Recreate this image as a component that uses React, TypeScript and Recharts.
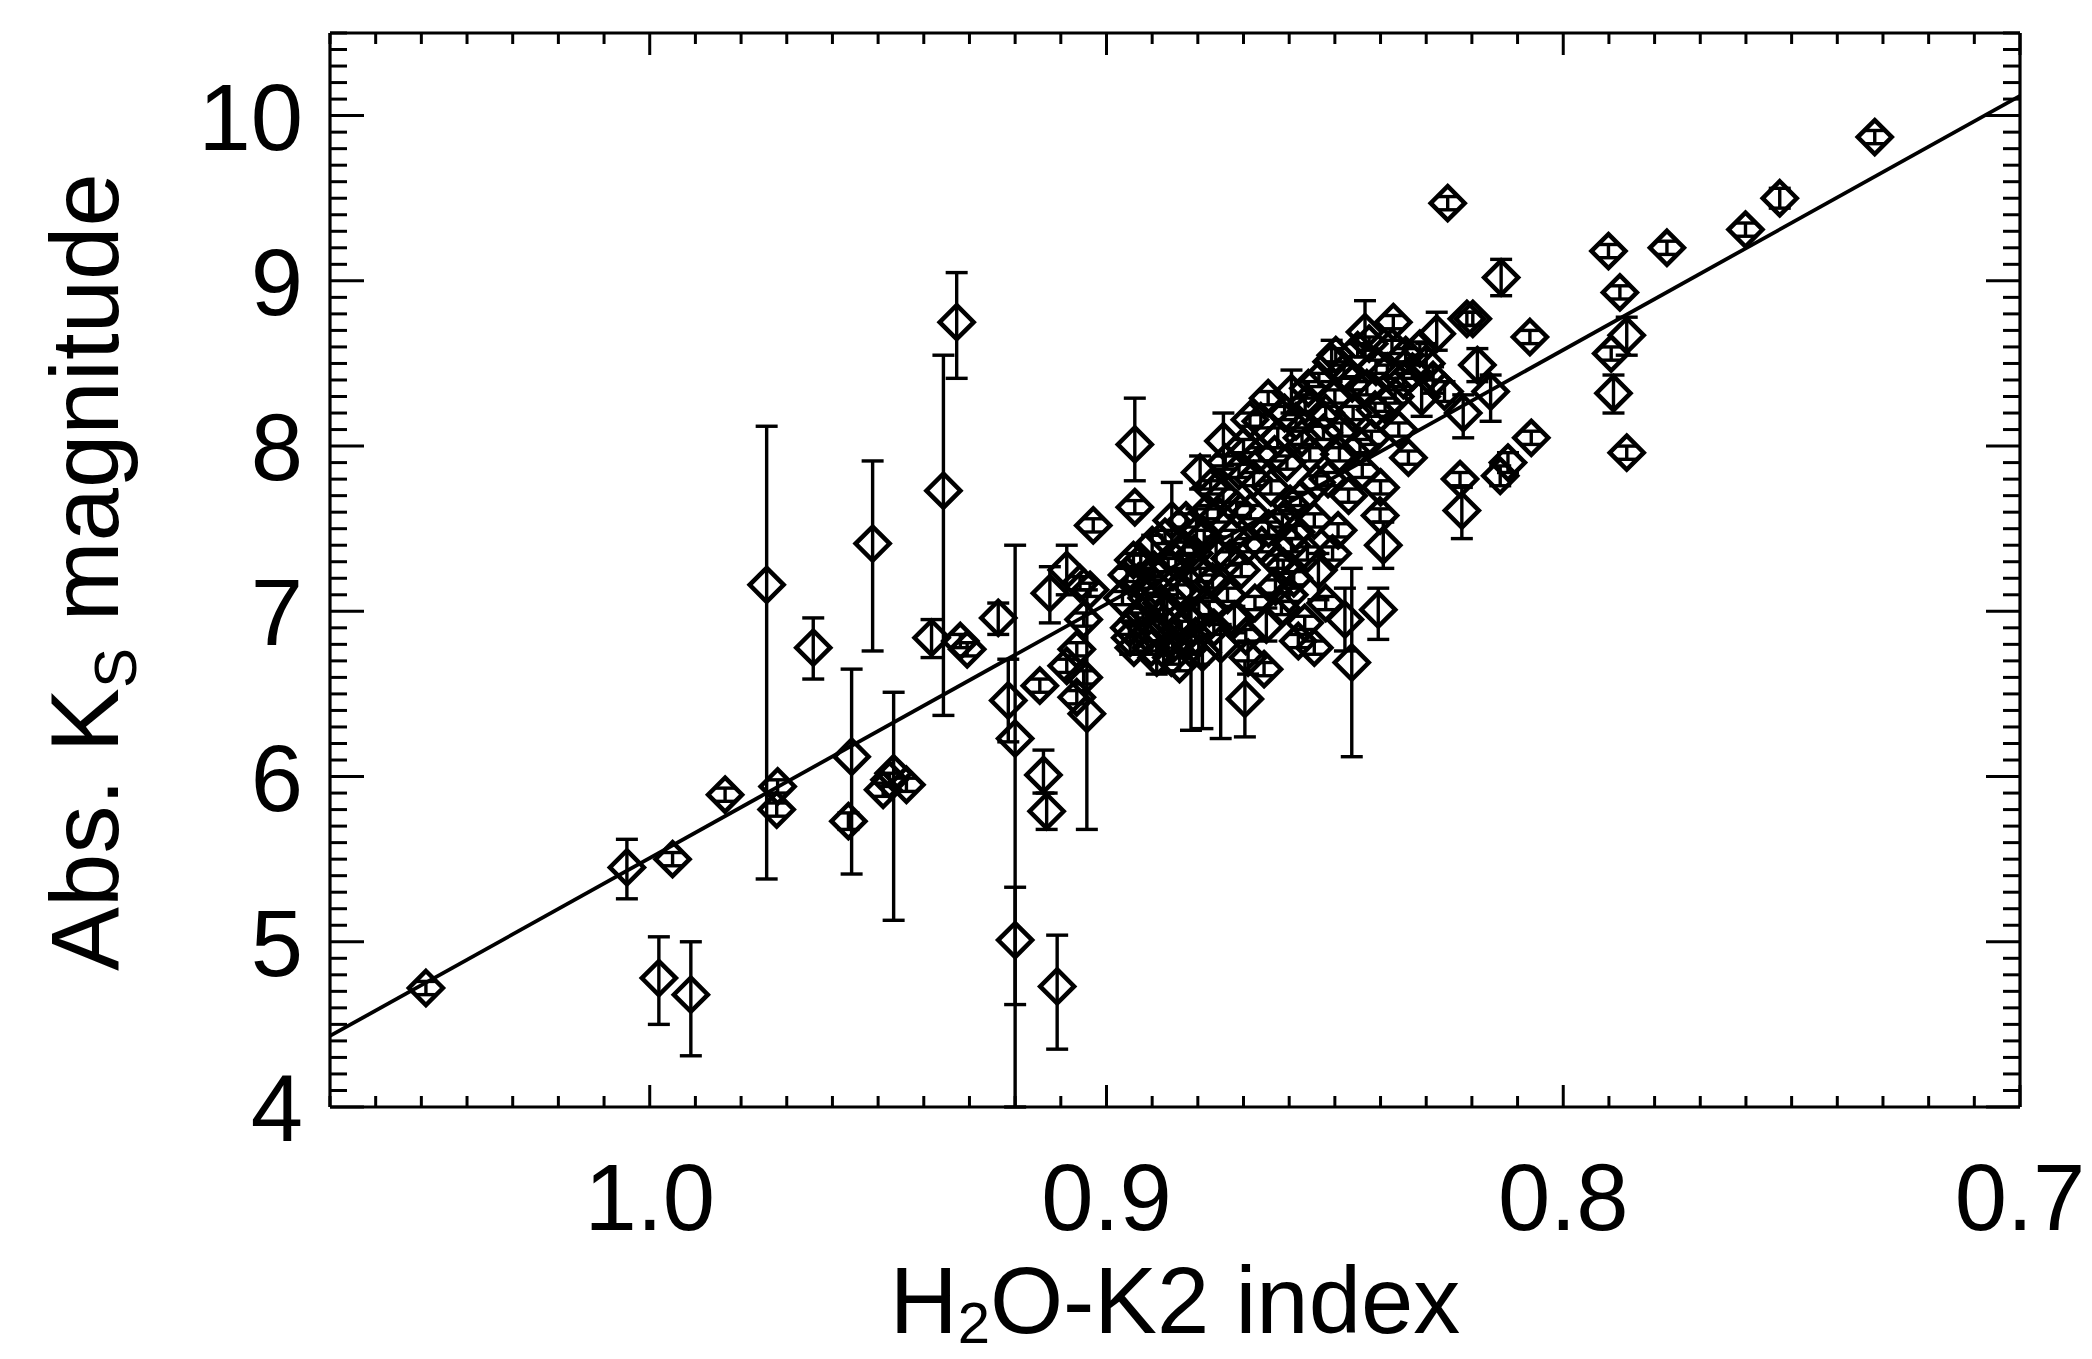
import React from "react"
import { ScatterChart, Scatter, XAxis, YAxis, ErrorBar } from "recharts"

// H2O-K2 index vs absolute Ks magnitude, one entry per star
const h2oK2Index = [
  1.049, 1.005, 0.995, 0.998, 0.991, 0.9835, 0.9744, 0.972, 0.9722, 0.9642,
  0.9558, 0.9565, 0.9512, 0.9489, 0.9466, 0.9438, 0.9475, 0.9357, 0.9328, 0.9383,
  0.932, 0.9305, 0.9237, 0.9215, 0.92, 0.92, 0.9108, 0.9146, 0.9138, 0.9131,
  0.9124, 0.9087, 0.9058, 0.9036, 0.905, 0.9065, 0.9087, 0.905, 0.9065, 0.9043,
  0.9029, 0.8938, 0.8938, 0.8941, 0.8697, 0.8463, 0.8478, 0.8405, 0.8394, 0.8401,
  0.8339, 0.8226, 0.8222, 0.8219, 0.8211, 0.8277, 0.8314, 0.8372, 0.8434, 0.8507,
  0.8595, 0.8646, 0.8686, 0.8744, 0.8795, 0.8803, 0.8857, 0.8613, 0.8536, 0.8617,
  0.8566, 0.858, 0.8493, 0.8585, 0.8253, 0.8136, 0.8198, 0.8073, 0.8188, 0.8159,
  0.807, 0.8121, 0.8138, 0.7318, 0.7526, 0.7601, 0.7773, 0.7901, 0.7876, 0.7861,
  0.7895, 0.789, 0.7861, 0.83, 0.8285, 0.826, 0.831, 0.833, 0.8965, 0.895,
  0.894, 0.893, 0.892, 0.891, 0.89, 0.889, 0.888, 0.8875, 0.8865, 0.8855,
  0.8845, 0.884, 0.883, 0.882, 0.8815, 0.8805, 0.8795, 0.879, 0.878, 0.8775,
  0.8765, 0.876, 0.875, 0.8745, 0.8735, 0.8725, 0.872, 0.871, 0.8705, 0.8695,
  0.8685, 0.8675, 0.8665, 0.866, 0.865, 0.864, 0.863, 0.8625, 0.8615, 0.8605,
  0.8595, 0.8585, 0.8575, 0.8565, 0.8555, 0.8545, 0.8535, 0.8525, 0.8515, 0.85,
  0.849, 0.848, 0.847, 0.846, 0.845, 0.844, 0.843, 0.842, 0.841, 0.84,
  0.839, 0.8375, 0.836, 0.835, 0.86, 0.852, 0.8545, 0.869, 0.8655, 0.8895,
  0.8505, 0.8955, 0.8948, 0.8932, 0.8925, 0.8912, 0.8902, 0.8893, 0.8885, 0.8872,
  0.8868, 0.8858, 0.8848, 0.8836, 0.8826, 0.8818, 0.8808, 0.8798, 0.8786, 0.8772,
  0.8768, 0.8755, 0.874, 0.873, 0.8715, 0.87, 0.8692, 0.8678, 0.8662, 0.8645,
  0.8632, 0.861, 0.8598, 0.8572, 0.8558, 0.854, 0.852, 0.8498, 0.8485, 0.8462,
  0.8445, 0.8425, 0.8412, 0.8385, 0.8368, 0.8345, 0.8625, 0.859, 0.856,
]

const absKsMag = [
  4.72, 5.45, 5.5, 4.78, 4.68, 5.89, 7.16, 5.94, 5.8, 6.78,
  6.12, 5.73, 7.41, 5.92, 6.02, 5.95, 5.98, 7.73, 8.75, 6.84,
  6.82, 6.77, 6.96, 6.46, 6.23, 5.01, 4.73, 6.55, 6.01, 5.79,
  7.11, 7.25, 7.17, 7.13, 6.95, 6.77, 6.67, 6.6, 6.48, 6.38,
  7.52, 8.01, 7.63, 7.31, 6.47, 6.69, 6.95, 7.01, 7.4, 7.58,
  7.93, 7.8, 7.61, 8.2, 8.77, 8.68, 8.59, 8.75, 8.69, 8.51,
  8.32, 8.29, 8.16, 8.03, 7.84, 7.47, 7.55, 7.27, 7.25, 7.02,
  6.93, 6.82, 7.49, 7.48, 9.47, 9.02, 8.77, 8.66, 8.49, 8.33,
  8.05, 7.9, 7.82, 9.87, 9.5, 9.31, 9.2, 9.18, 8.93, 8.67,
  8.56, 8.32, 7.96, 8.5, 8.4, 8.33, 8.3, 8.45, 7.08, 6.9,
  6.78, 7.18, 6.98, 6.86, 7.4, 6.72, 7.05, 6.93, 7.28, 6.8,
  7.12, 6.68, 7.38, 6.95, 7.15, 6.85, 7.22, 6.75, 7.6, 7.02,
  6.9, 7.35, 6.8, 7.7, 7.1, 7.45, 6.95, 7.85, 7.25, 6.85,
  7.6, 7.05, 7.95, 7.4, 6.92, 7.75, 7.15, 8.05, 7.55, 7.9,
  7.4, 8.15, 7.68, 8.25, 7.95, 7.55, 8.4, 8.08, 7.8, 8.3,
  7.95, 8.45, 7.7, 8.2, 8.58, 7.85, 8.35, 8.05, 8.48, 7.75,
  8.25, 8.6, 8.1, 8.4, 7.1, 7.05, 6.78, 6.72, 6.65, 7.25,
  7.35, 7.22, 6.84, 6.95, 7.3, 7.08, 6.78, 7.15, 6.88, 7.45,
  7.0, 6.72, 7.3, 6.9, 7.55, 6.78, 7.35, 6.98, 7.45, 7.75,
  7.18, 7.58, 7.9, 7.32, 7.62, 8.0, 7.4, 7.8, 8.15, 7.5,
  7.95, 8.2, 7.65, 8.05, 8.35, 7.78, 8.2, 8.55, 8.1, 8.38,
  8.0, 8.62, 8.22, 8.45, 8.3, 8.55, 7.3, 7.2, 7.35,
]

// lower / upper error on the magnitude
const ksErrLow = [
  0.04, 0.19, 0.04, 0.28, 0.37, 0.04, 1.78, 0.04, 0.04, 0.19,
  0.71, 0.05, 0.65, 0.04, 0.89, 0.04, 0.04, 1.36, 0.34, 0.12,
  0.04, 0.04, 0.1, 0.25, 2.23, 0.39, 0.38, 0.04, 0.11, 0.11,
  0.18, 0.15, 0.04, 0.04, 0.04, 0.04, 0.04, 0.04, 0.04, 0.7,
  0.04, 0.22, 0.04, 0.04, 0.23, 0.57, 0.19, 0.18, 0.14, 0.04,
  0.04, 0.04, 0.17, 0.15, 0.04, 0.1, 0.04, 0.04, 0.15, 0.12,
  0.12, 0.04, 0.04, 0.15, 0.1, 0.14, 0.13, 0.04, 0.18, 0.04,
  0.04, 0.04, 0.04, 0.04, 0.04, 0.11, 0.04, 0.04, 0.1, 0.18,
  0.04, 0.06, 0.06, 0.04, 0.06, 0.04, 0.04, 0.04, 0.04, 0.12,
  0.04, 0.12, 0.04, 0.1, 0.08, 0.06, 0.12, 0.04, 0.04, 0.04,
  0.04, 0.08, 0.04, 0.1, 0.06, 0.1, 0.04, 0.3, 0.04, 0.04,
  0.04, 0.04, 0.04, 0.06, 0.87, 0.04, 0.04, 0.46, 0.04, 0.04,
  0.04, 0.1, 0.57, 0.04, 0.04, 0.04, 0.08, 0.04, 0.04, 0.04,
  0.04, 0.04, 0.04, 0.04, 0.1, 0.04, 0.04, 0.06, 0.04, 0.04,
  0.04, 0.04, 0.04, 0.04, 0.04, 0.04, 0.04, 0.04, 0.04, 0.04,
  0.04, 0.04, 0.04, 0.04, 0.04, 0.04, 0.04, 0.04, 0.04, 0.04,
  0.04, 0.04, 0.04, 0.04, 0.04, 0.04, 0.04, 0.1, 0.04, 0.04,
  0.04, 0.04, 0.1, 0.04, 0.04, 0.06, 0.04, 0.04, 0.06, 0.04,
  0.1, 0.04, 0.04, 0.04, 0.04, 0.04, 0.04, 0.3, 0.04, 0.04,
  0.04, 0.04, 0.04, 0.04, 0.04, 0.04, 0.04, 0.04, 0.04, 0.04,
  0.04, 0.04, 0.04, 0.04, 0.04, 0.04, 0.04, 0.04, 0.04, 0.04,
  0.04, 0.04, 0.04, 0.04, 0.04, 0.04, 0.04, 0.04, 0.04,
]

const ksErrHigh = [
  0.04, 0.17, 0.04, 0.25, 0.32, 0.04, 0.96, 0.04, 0.04, 0.18,
  0.53, 0.05, 0.5, 0.04, 0.49, 0.04, 0.04, 0.82, 0.3, 0.11,
  0.04, 0.04, 0.09, 0.25, 1.17, 0.32, 0.31, 0.04, 0.15, 0.11,
  0.16, 0.15, 0.04, 0.04, 0.04, 0.04, 0.04, 0.04, 0.04, 0.75,
  0.04, 0.28, 0.04, 0.04, 0.23, 0.57, 0.19, 0.13, 0.14, 0.04,
  0.04, 0.04, 0.14, 0.11, 0.04, 0.13, 0.04, 0.04, 0.19, 0.13,
  0.14, 0.04, 0.04, 0.17, 0.1, 0.15, 0.23, 0.04, 0.1, 0.04,
  0.04, 0.04, 0.04, 0.04, 0.04, 0.11, 0.04, 0.04, 0.1, 0.1,
  0.04, 0.06, 0.06, 0.04, 0.06, 0.04, 0.04, 0.04, 0.04, 0.11,
  0.04, 0.11, 0.04, 0.12, 0.08, 0.06, 0.12, 0.04, 0.04, 0.04,
  0.04, 0.08, 0.04, 0.1, 0.06, 0.1, 0.04, 0.2, 0.04, 0.04,
  0.04, 0.04, 0.04, 0.06, 0.2, 0.04, 0.04, 0.1, 0.04, 0.04,
  0.04, 0.1, 0.12, 0.04, 0.04, 0.04, 0.08, 0.04, 0.04, 0.04,
  0.04, 0.04, 0.04, 0.04, 0.1, 0.04, 0.04, 0.06, 0.04, 0.04,
  0.04, 0.04, 0.04, 0.04, 0.04, 0.04, 0.04, 0.04, 0.04, 0.04,
  0.04, 0.04, 0.04, 0.04, 0.04, 0.04, 0.04, 0.04, 0.04, 0.04,
  0.04, 0.04, 0.04, 0.04, 0.04, 0.04, 0.04, 0.1, 0.04, 0.04,
  0.04, 0.04, 0.1, 0.04, 0.04, 0.06, 0.04, 0.04, 0.06, 0.04,
  0.1, 0.04, 0.04, 0.04, 0.04, 0.04, 0.04, 0.1, 0.04, 0.04,
  0.04, 0.04, 0.04, 0.04, 0.04, 0.04, 0.04, 0.04, 0.04, 0.04,
  0.04, 0.04, 0.04, 0.04, 0.04, 0.04, 0.04, 0.04, 0.04, 0.04,
  0.04, 0.04, 0.04, 0.04, 0.04, 0.04, 0.04, 0.04, 0.04,
]

// linear fit, drawn across the whole plot
const fitIndex = [1.07, 0.7]
const fitMag = [4.43, 10.12]

const xMajorTicks = [1.0, 0.9, 0.8, 0.7]
const yMajorTicks = [4, 5, 6, 7, 8, 9, 10]

const xTicks: number[] = []
for (let i = 70; i <= 107; i++) xTicks.push(i / 100)
const yTicks: number[] = []
for (let i = 40; i <= 105; i++) yTicks.push(i / 10)

const FONT = '"Liberation Sans", Arial, Helvetica, sans-serif'
const INK = "#000"

const stars = h2oK2Index.map((x, i) => ({
  x,
  y: absKsMag[i],
  err: [ksErrLow[i], ksErrHigh[i]],
}))
const fitLine = fitIndex.map((x, i) => ({ x, y: fitMag[i] }))

const isMajorX = (v: number) => xMajorTicks.some((t) => Math.abs(t - v) < 1e-6)
const isMajorY = (v: number) => yMajorTicks.some((t) => Math.abs(t - v) < 1e-6)

function renderXTick(props: any, side: "top" | "bottom") {
  const { x, y, payload } = props
  const major = isMajorX(payload.value)
  const len = major ? 22 : 11
  const dir = side === "bottom" ? -1 : 1
  return (
    <g>
      <line x1={x} y1={y} x2={x} y2={y + dir * len} stroke={INK} strokeWidth={3} />
      {side === "bottom" && major && (
        <text x={x} y={y + 123} textAnchor="middle" fontSize={94} fontFamily={FONT} fill={INK}>
          {payload.value.toFixed(1)}
        </text>
      )}
    </g>
  )
}

function renderYTick(props: any, side: "left" | "right") {
  const { x, y, payload } = props
  const major = isMajorY(payload.value)
  const len = major ? 34 : 17
  const dir = side === "left" ? 1 : -1
  return (
    <g>
      <line x1={x} y1={y} x2={x + dir * len} y2={y} stroke={INK} strokeWidth={3} />
      {side === "left" && major && (
        <text x={x - 27} y={y + 34} textAnchor="end" fontSize={94} fontFamily={FONT} fill={INK}>
          {Math.round(payload.value)}
        </text>
      )}
    </g>
  )
}

const Diamond = (props: any) => {
  const { cx, cy } = props
  const r = 17
  return (
    <path
      d={`M${cx},${cy - r}L${cx + r},${cy}L${cx},${cy + r}L${cx - r},${cy}Z`}
      fill="none"
      stroke={INK}
      strokeWidth={4.5}
    />
  )
}

const NoMarker = () => <g />

const XTitle = () => (
  <text x={1175} y={1333} textAnchor="middle" fontSize={94} fontFamily={FONT} fill={INK}>
    H
    <tspan dy={10} fontSize={58}>2</tspan>
    <tspan dy={-10}>O-K2 index</tspan>
  </text>
)

const YTitle = () => (
  <text transform="translate(118,572) rotate(-90)" textAnchor="middle" fontSize={96} fontFamily={FONT} fill={INK}>
    Abs. K
    <tspan dy={18} fontSize={60}>S</tspan>
    <tspan dy={-18}> magnitude</tspan>
  </text>
)

export default function App() {
  const axisLine = { stroke: INK, strokeWidth: 3.2 }
  return (
    <div style={{ position: "absolute", left: 0, top: 0, width: 2092, height: 1359, background: "#fff" }}>
      <ScatterChart width={2092} height={1359} margin={{ top: 32, right: 71, bottom: 52, left: 0 }}>
        <XAxis
          xAxisId="bottom"
          dataKey="x"
          type="number"
          domain={[0.7, 1.07]}
          reversed
          allowDataOverflow
          ticks={xTicks}
          interval={0}
          height={200}
          tickSize={0}
          tickMargin={0}
          tickLine={false}
          axisLine={axisLine}
          tick={(p: any) => renderXTick(p, "bottom")}
          label={XTitle}
        />
        <XAxis
          xAxisId="top"
          orientation="top"
          dataKey="x"
          type="number"
          domain={[0.7, 1.07]}
          reversed
          allowDataOverflow
          ticks={xTicks}
          interval={0}
          height={1}
          tickSize={0}
          tickMargin={0}
          tickLine={false}
          axisLine={axisLine}
          tick={(p: any) => renderXTick(p, "top")}
        />
        <YAxis
          yAxisId="left"
          dataKey="y"
          type="number"
          domain={[4, 10.5]}
          allowDataOverflow
          ticks={yTicks}
          interval={0}
          width={330}
          tickSize={0}
          tickMargin={0}
          tickLine={false}
          axisLine={axisLine}
          tick={(p: any) => renderYTick(p, "left")}
          label={YTitle}
        />
        <YAxis
          yAxisId="right"
          orientation="right"
          dataKey="y"
          type="number"
          domain={[4, 10.5]}
          allowDataOverflow
          ticks={yTicks}
          interval={0}
          width={1}
          tickSize={0}
          tickMargin={0}
          tickLine={false}
          axisLine={axisLine}
          tick={(p: any) => renderYTick(p, "right")}
        />
        <Scatter
          data={fitLine}
          xAxisId="bottom"
          yAxisId="left"
          fill={INK}
          line={{ stroke: INK, strokeWidth: 3.8 }}
          shape={NoMarker}
          isAnimationActive={false}
        />
        <Scatter
          data={stars}
          xAxisId="bottom"
          yAxisId="left"
          fill="none"
          shape={Diamond}
          isAnimationActive={false}
        >
          <ErrorBar dataKey="err" direction="y" width={11} stroke={INK} strokeWidth={3.4} isAnimationActive={false} />
        </Scatter>
      </ScatterChart>
    </div>
  )
}
